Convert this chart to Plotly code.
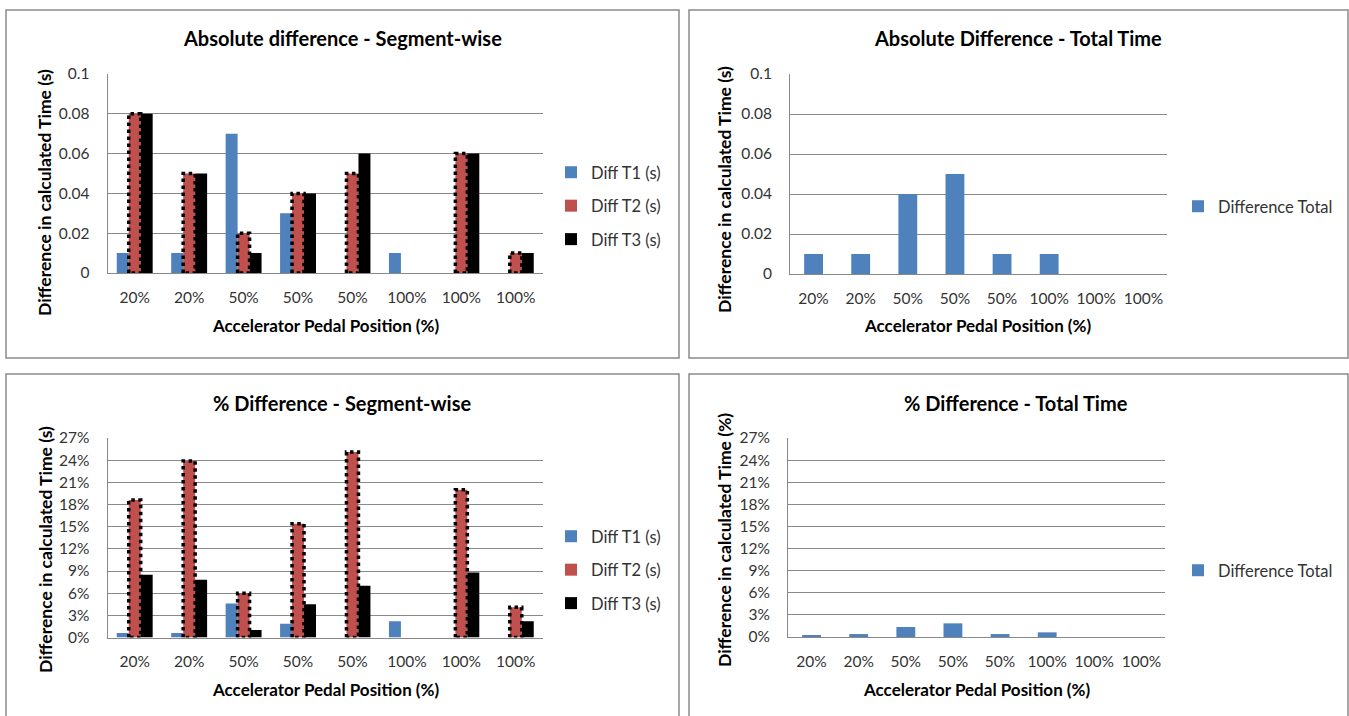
import plotly.graph_objects as go

# ---- data ----
categories = ["20%", "20%", "50%", "50%", "50%", "100%", "100%", "100%"]

abs_t1 = [0.01, 0.01, 0.07, 0.03, 0.0, 0.01, 0.0, 0.0]
abs_t2 = [0.08, 0.05, 0.02, 0.04, 0.05, 0.0, 0.06, 0.01]
abs_t3 = [0.08, 0.05, 0.01, 0.04, 0.06, 0.0, 0.06, 0.01]
abs_total = [0.01, 0.01, 0.04, 0.05, 0.01, 0.01, 0.0, 0.0]

pct_t1 = [0.006, 0.006, 0.046, 0.0185, 0.0, 0.022, 0.0, 0.0]
pct_t2 = [0.186, 0.239, 0.060, 0.154, 0.251, 0.0, 0.200, 0.041]
pct_t3 = [0.085, 0.078, 0.010, 0.045, 0.070, 0.0, 0.088, 0.022]
pct_total = [0.0027, 0.004, 0.0136, 0.0185, 0.004, 0.0063, 0.0, 0.0]

series_names = ["Diff T1 (s)", "Diff T2 (s)", "Diff T3 (s)"]
total_name = "Difference Total"

# ---- style ----
W, H = 1349, 716
FONT = "Lato, 'Open Sans', sans-serif"
BLUE, RED, BLACK = "#4F81BD", "#C0504D", "#000000"
GRID = "#898989"
TICK_COLOR = "#333333"


def px(x):
    return x / W


def py(y):
    return 1 - y / H


idx = list(range(len(categories)))
fig = go.Figure()

# Segment-wise panels: three bars per category, T2 bars with a dotted outline
seg_panels = [
    ("x", "y", "legend", [abs_t1, abs_t2, abs_t3]),
    ("x2", "y2", "legend2", [pct_t1, pct_t2, pct_t3]),
]
bw = 0.22
for xa, ya, lg, series in seg_panels:
    for k, (vals, color, name) in enumerate(zip(series, [BLUE, RED, BLACK], series_names)):
        fig.add_trace(go.Bar(
            x=idx, y=vals, width=bw, offset=-1.5 * bw + k * bw,
            marker=dict(color=color, line=dict(width=0)),
            name=name, legend=lg, legendgroup=f"{lg}-{k}",
            xaxis=xa, yaxis=ya, hoverinfo="skip",
        ))
    # dotted outline around the T2 bars
    xs, ys = [], []
    for i, v in zip(idx, series[1]):
        if v > 0:
            x0, x1 = i - bw / 2, i + bw / 2
            xs += [x0, x0, x1, x1, x0, None]
            ys += [0, v, v, 0, 0, None]
    fig.add_trace(go.Scatter(
        x=xs, y=ys, mode="lines",
        line=dict(color=BLACK, width=3.5, dash="dot"),
        showlegend=False, xaxis=xa, yaxis=ya, hoverinfo="skip",
    ))

# Total-time panels: single series
for xa, ya, lg, vals in [("x3", "y3", "legend3", abs_total), ("x4", "y4", "legend4", pct_total)]:
    fig.add_trace(go.Bar(
        x=idx, y=vals, width=0.4,
        marker=dict(color=BLUE, line=dict(width=0)),
        name=total_name, legend=lg,
        xaxis=xa, yaxis=ya, hoverinfo="skip",
    ))

# ---- axes ----
def xaxis(x0, x1, anchor):
    return dict(
        domain=[px(x0), px(x1)], anchor=anchor, range=[-0.5, len(categories) - 0.5],
        tickmode="array", tickvals=idx, ticktext=categories,
        showgrid=False, zeroline=False, showline=True, linecolor=GRID, linewidth=1,
        ticks="outside", ticklen=10, tickcolor="rgba(0,0,0,0)",
        tickfont=dict(family=FONT, size=15.5, color=TICK_COLOR), fixedrange=True,
        automargin=False,
    )


def yaxis(y0, y1, anchor, rng, dtick, fmt):
    return dict(
        domain=[py(y1), py(y0)], anchor=anchor, range=rng, dtick=dtick, tick0=0,
        tickformat=fmt, showgrid=True, gridcolor=GRID, gridwidth=1,
        zeroline=False, showline=True, linecolor=GRID, linewidth=1,
        ticks="outside", ticklen=14, tickcolor="rgba(0,0,0,0)",
        tickfont=dict(family=FONT, size=15.5, color=TICK_COLOR), fixedrange=True,
        automargin=False,
    )


layout_axes = dict(
    xaxis=xaxis(107.5, 543, "y"),
    yaxis=yaxis(74, 273, "x", [0, 0.1], 0.02, ""),
    xaxis2=xaxis(107.5, 543, "y2"),
    yaxis2=yaxis(438, 637.5, "x2", [0, 0.27], 0.03, ".0%"),
    xaxis3=xaxis(790, 1167, "y3"),
    yaxis3=yaxis(74, 274, "x3", [0, 0.1], 0.02, ""),
    xaxis4=xaxis(788, 1165, "y4"),
    yaxis4=yaxis(438, 637, "x4", [0, 0.27], 0.03, ".0%"),
)


def legend(x, y):
    return dict(
        x=px(x), y=py(y), xanchor="left", yanchor="top",
        font=dict(family=FONT, size=16.5, color=TICK_COLOR),
        bgcolor="rgba(0,0,0,0)", borderwidth=0,
        traceorder="grouped", tracegroupgap=9, itemclick=False,
    )


# ---- titles and frames ----
annotations = []


def text(x, y, s, size, angle=0, bold=True):
    annotations.append(dict(
        x=px(x), y=py(y), xref="paper", yref="paper", text=f"<b>{s}</b>" if bold else s,
        showarrow=False, textangle=angle, xanchor="center", yanchor="middle",
        font=dict(family=FONT, size=size, color="#000000"),
    ))


text(342, 38, "Absolute difference - Segment-wise", 20)
text(1018, 38, "Absolute Difference - Total Time", 20)
text(342, 403, "% Difference - Segment-wise", 20)
text(1016, 403, "% Difference - Total Time", 20)

text(325, 325, "Accelerator Pedal Position (%)", 17)
text(978, 325, "Accelerator Pedal Position (%)", 17)
text(325, 689, "Accelerator Pedal Position (%)", 17)
text(976, 689, "Accelerator Pedal Position (%)", 17)

text(45, 193, "Difference in calculated Time (s)", 17.5, angle=-90)
text(724, 190, "Difference in calculated Time (s)", 17.5, angle=-90)
text(45, 550, "Difference in calculated Time (s)", 17.5, angle=-90)
text(724, 540, "Difference in calculated Time (%)", 17.5, angle=-90)

shapes = []
for x0, y0, x1, y1 in [(6, 10, 679, 358), (689, 10, 1348, 358),
                       (6, 374, 679, 730), (689, 374, 1348, 730)]:
    shapes.append(dict(
        type="rect", xref="paper", yref="paper",
        x0=px(x0), x1=px(x1), y0=py(y1), y1=py(y0),
        line=dict(color="#8a8a8a", width=1.5), fillcolor="rgba(0,0,0,0)", layer="below",
    ))

fig.update_layout(
    width=W, height=H, autosize=False,
    margin=dict(l=0, r=0, t=0, b=0, pad=0, autoexpand=False),
    paper_bgcolor="white", plot_bgcolor="white",
    barmode="overlay", showlegend=True,
    legend=legend(551, 155),
    legend2=legend(551, 519),
    legend3=legend(1178, 189),
    legend4=legend(1178, 553),
    annotations=annotations, shapes=shapes,
    font=dict(family=FONT),
    **layout_axes,
)

fig.write_html("out.html", config={"displayModeBar": False})
